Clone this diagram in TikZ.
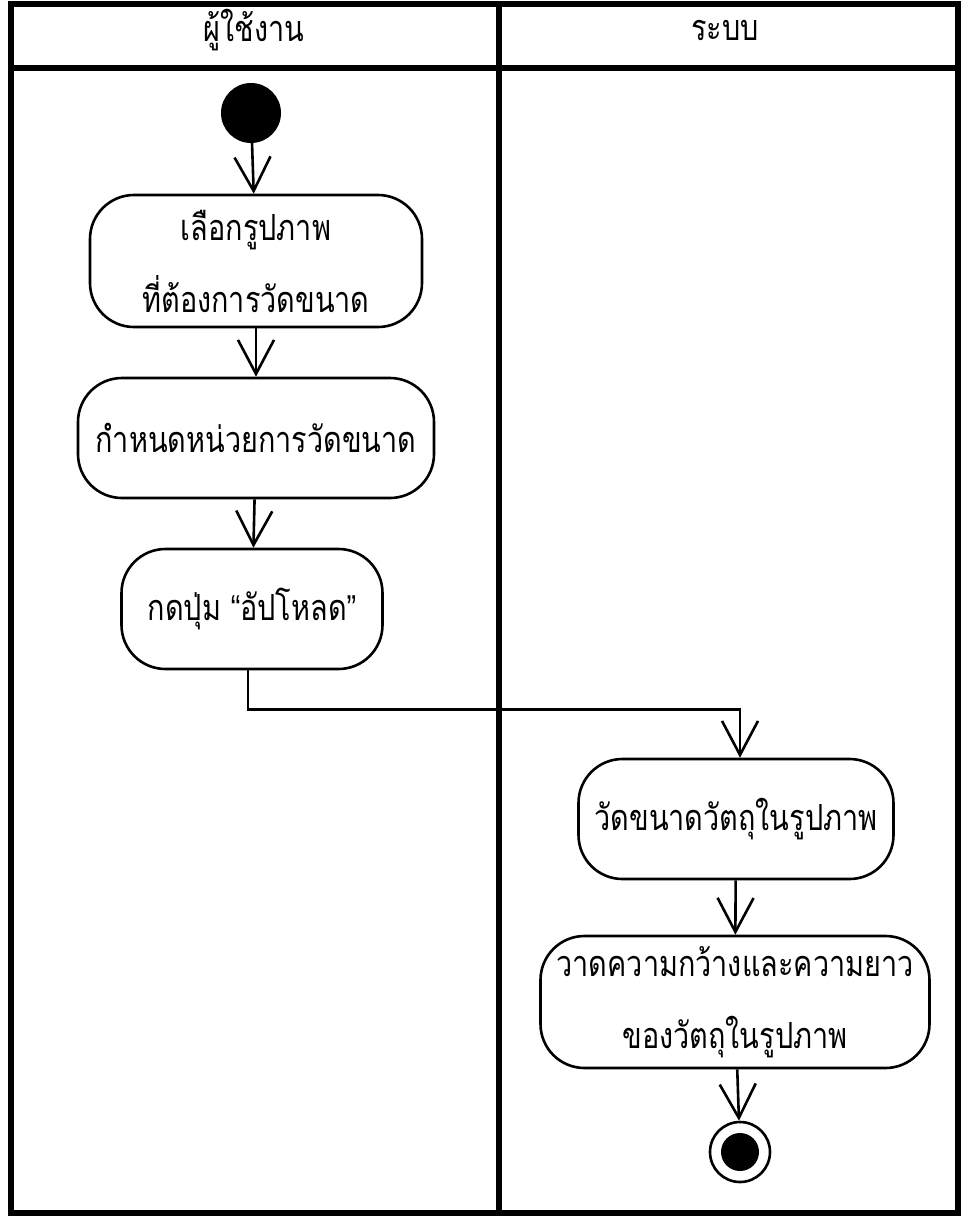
\documentclass[tikz,border=0pt]{standalone}
\usepackage{fontspec}
\newfontfamily\thaifont[Script=Thai,FakeStretch=0.8]{Loma}
\newfontfamily\quotefont[FakeStretch=0.8]{Liberation Sans}
\usetikzlibrary{positioning,calc,arrows.meta}
\tikzset{
	font=\thaifont\fontsize{36}{66}\selectfont,
	activity/.style={draw, line width=2.6pt, rounded corners=44pt, align=center, inner sep=0pt},
	flow/.style={line width=2.6pt, -{Straight Barb[length=34pt, width=36pt, line width=2.6pt]}},
	lane/.style={line width=6pt}
}

\begin{document}
\begin{tikzpicture}[x=1pt, y=-1pt]
	\useasboundingbox (0,0) rectangle (970,1219);
	% swimlanes
	\draw[lane] (11,4) rectangle (958,1213);
	\draw[lane] (11,68) -- (958,68);
	\draw[lane] (499,4) -- (499,1213);
	\node (user) at (254,30) {ผู้ใช้งาน};
	\node (system) at (725,30) {ระบบ};

	% start and end
	\node[circle, fill=black, minimum size=60pt, inner sep=0pt] (start) at (251,113) {};
	\node[circle, draw, line width=2.6pt, minimum size=60pt, inner sep=0pt] (stop) at (740,1152) {};
	\node[circle, fill=black, minimum size=38pt, inner sep=0pt] at (stop) {};

	% activities
	\node[activity, minimum width=332pt, minimum height=132pt] (select) at (256,261) {เลือกรูปภาพ\\[6pt]ที่ต้องการวัดขนาด};
	\node[activity, minimum width=356pt, minimum height=120pt] (unit) at (256,438) {กำหนดหน่วยการวัดขนาด};
	\node[activity, minimum width=261pt, minimum height=120pt] (upload) at (252,609) {กดปุ่ม {\quotefont “}อัปโหลด{\quotefont ”}};
	\node[activity, minimum width=315pt, minimum height=120pt] (measure) at (736,819) {วัดขนาดวัตถุในรูปภาพ};
	\node[activity, minimum width=389pt, minimum height=132pt] (draw) at (735,1002) {วาดความกว้างและความยาว\\[6pt]ของวัตถุในรูปภาพ};

	% flows
	\draw[flow] (start) -- (select);
	\draw[flow] (select) -- (unit);
	\draw[flow] (unit) -- (upload);
	\draw[flow] (upload.south) ++(-4,0) -- ++(0,39) -| ($(measure.north)+(4,0)$);
	\draw[flow] (measure) -- (draw);
	\draw[flow] (draw) -- (stop);
\end{tikzpicture}
\end{document}
